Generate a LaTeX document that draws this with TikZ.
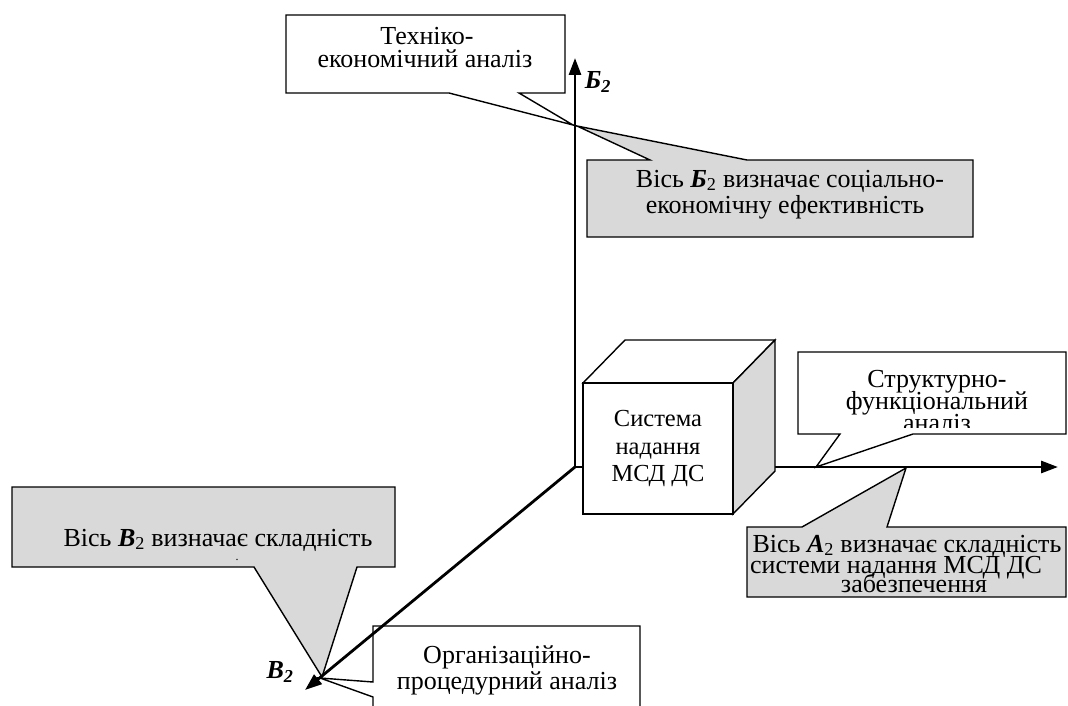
\documentclass[tikz,border=0pt]{standalone}
\usepackage{fontspec}
\setmainfont{Liberation Serif}
\usetikzlibrary{arrows.meta}
\definecolor{calloutgray}{RGB}{217,217,217}
\begin{document}
\begin{tikzpicture}[x=1pt,y=-1pt,
  txt/.style={anchor=base,inner sep=0pt,font=\fontsize{26}{28}\selectfont},
  cubetxt/.style={anchor=base,inner sep=0pt,font=\fontsize{24.5}{28}\selectfont},
  callw/.style={draw=black,line width=1.4pt,fill=white,line join=miter},
  callg/.style={draw=black,line width=1.4pt,fill=calloutgray,line join=miter},
  axisline/.style={line width=2.8pt,-{Triangle[length=17pt,width=12pt]}},
  cubeface/.style={draw=black,line width=1.4pt,line join=miter},
  lbl/.style={inner sep=0pt,font=\fontsize{26}{28}\selectfont\bfseries\itshape}
]
\useasboundingbox (0,0) rectangle (1068,706);

% named points
\coordinate (O) at (575,467);
\coordinate (Btip) at (575,58);
\coordinate (Atip) at (1058,467);
\coordinate (Vtip) at (305,690);
\coordinate (apTL) at (573,125);
\coordinate (apTG) at (577,126);
\coordinate (apTR) at (816,467);
\coordinate (apBR) at (906,468);
\coordinate (apBL) at (322,677);
\coordinate (apBW) at (320,678);

% top-left white callout
\draw[callw] (286,15) -- (565,15) -- (565,93) -- (519,93) -- (apTL) -- (449,93) -- (286,93) -- cycle;
\node[txt] (t1a) at (427,45) {Техніко-};
\node[txt] (t1b) at (425,68) {економічний аналіз};

% top gray callout
\draw[callg] (587,160) -- (650,160) -- (apTG) -- (747,160) -- (973,160) -- (973,237) -- (587,237) -- cycle;
\node[txt] (t2a) at (790,187) {Вісь \textbf{\textit{Б}}\textsubscript{2} визначає соціально-};
\node[txt] (t2b) at (785,213) {економічну ефективність};

% top-right white callout
\draw[callw] (798,352) -- (1066,352) -- (1066,434) -- (913,434) -- (apTR) -- (840,434) -- (798,434) -- cycle;
\begin{scope}
\clip (798,352) rectangle (1066,427);
\node[txt] (t3a) at (937,387) {Структурно-};
\node[txt] (t3b) at (937,409) {функціональний};
\node[txt] (t3c) at (937,431) {аналіз};
\end{scope}

% bottom-right gray callout
\draw[callg] (747,527) -- (802,527) -- (apBR) -- (887,527) -- (1066,527) -- (1066,597) -- (747,597) -- cycle;
\node[txt] (t4a) at (907,552) {Вісь \textbf{\textit{А}}\textsubscript{2} визначає складність};
\node[txt] (t4b) at (896,573) {системи надання МСД ДС};
\node[txt] (t4c) at (914,592) {забезпечення};

% bottom-left gray callout
\draw[callg] (12,487) -- (395,487) -- (395,567) -- (357,567) -- (apBL) -- (254,567) -- (12,567) -- cycle;
\node[txt] (t5a) at (218,546) {Вісь \textbf{\textit{В}}\textsubscript{2} визначає складність};
\node[txt,font=\fontsize{12}{12}\selectfont] (t5b) at (237,560) {.};

% bottom white callout
\draw[callw] (373,626) -- (640,626) -- (640,720) -- (373,720) -- (373,697) -- (apBW) -- (373,682) -- cycle;
\node[txt] (t6a) at (507,663) {Організаційно-};
\node[txt] (t6b) at (507,689) {процедурний аналіз};

% axes
\draw[axisline] (O) -- (Btip);
\draw[axisline] (O) -- (Atip);
\draw[axisline] (O) -- (Vtip);
\node[lbl] (lb) at (598,82) {Б\textsubscript{2}};
\node[lbl] (lv) at (280,672) {В\textsubscript{2}};

% cube
\draw[cubeface,fill=white] (583,383) -- (625,340) -- (775,340) -- (733,383) -- cycle;
\draw[cubeface,fill=calloutgray] (733,383) -- (775,340) -- (775,471) -- (733,514) -- cycle;
\draw[cubeface,fill=white] (583,383) rectangle (733,514);
\node[cubetxt] (c1) at (658,426) {Система};
\node[cubetxt] (c2) at (658,454) {надання};
\node[cubetxt] (c3) at (658,481) {МСД ДС};
\end{tikzpicture}
\end{document}
